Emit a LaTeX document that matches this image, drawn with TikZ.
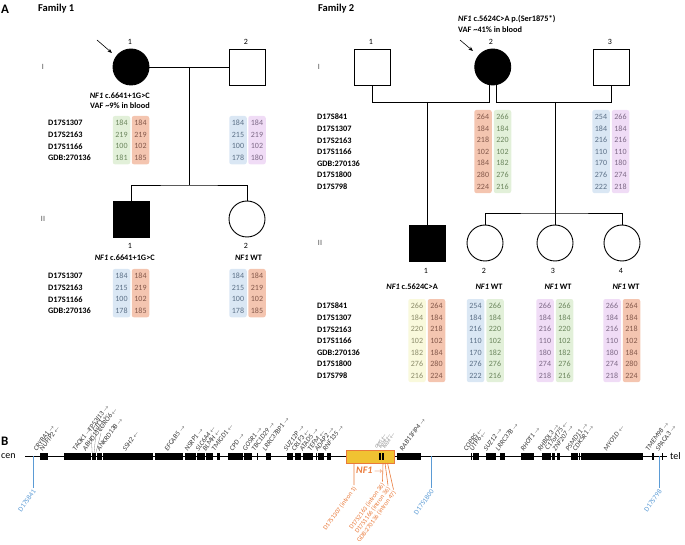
\documentclass[tikz,border=0pt]{standalone}
\usepackage{fontspec}
\setmainfont{Carlito}
\usetikzlibrary{arrows.meta}
\definecolor{grnbg}{HTML}{E2F0D9}\definecolor{grnfg}{HTML}{6B865D}
\definecolor{redbg}{HTML}{F4C5B0}\definecolor{redfg}{HTML}{84584A}
\definecolor{blubg}{HTML}{DAE7F4}\definecolor{blufg}{HTML}{5C7087}
\definecolor{purbg}{HTML}{F0DCF6}\definecolor{purfg}{HTML}{7D6986}
\definecolor{yelbg}{HTML}{F9F9DC}\definecolor{yelfg}{HTML}{8C8C6A}
\definecolor{mkblue}{HTML}{5B9BD5}
\definecolor{mkor}{HTML}{E97A3A}
\definecolor{nfgold}{HTML}{F0C232}
\newcommand{\fsz}[1]{\fontsize{#1}{#1}\selectfont}
\newcommand{\gR}{\,{\fsz{5.5}$\rightarrow$}}
\newcommand{\gL}{\,{\fsz{5.5}$\leftarrow$}}
\newcommand{\abox}[6]{%
  \node[abx, fill=#5bg, minimum height={(#4-1)*11.6+13.5}, anchor=north] (#1) at (#2,{#3-7.2}) {};
  \foreach \v [count=\k from 0] in {#6} {\node[anum, text=#5fg] (#1-\k) at (#2,{#3+\k*11.6}) {\v};}%
}
\begin{document}
\begin{tikzpicture}[x=1pt,y=-1pt,
  pl/.style={line width=0.9pt},
  sym/.style={draw, line width=0.9pt, inner sep=0, minimum size=36pt},
  sq/.style={sym, rectangle},
  ci/.style={sym, circle},
  aff/.style={fill=black},
  lbl/.style={font=\fsz{8}, inner sep=0, text height=5.5pt, text depth=0pt},
  bl/.style={font=\bfseries\fsz{8.3}, inner sep=0, text height=5.7pt, text depth=0pt},
  mk/.style={bl, anchor=west},
  anum/.style={font=\fsz{8}, inner sep=0, text height=5.2pt, text depth=0pt},
  abx/.style={rounded corners=2.2pt, minimum width=17.5pt, inner sep=0, draw=none},
  pro/.style={-{Stealth[length=4.5pt,width=3.6pt]}, line width=0.6pt},
  gene/.style={font=\itshape\fsz{7}, text=black!80, rotate=54, anchor=south west, inner sep=0.3pt},
  bmk/.style={draw=mkblue, line width=0.6pt},
  bml/.style={font=\fsz{7}, text=mkblue, rotate=54, anchor=east, inner sep=0.3pt},
  rmk/.style={draw=mkor, line width=0.6pt},
  rml/.style={font=\fsz{6.4}, text=mkor, rotate=54, anchor=east, inner sep=0.3pt}]
\useasboundingbox (0,0) rectangle (685,545);

% ---------- Panel A ----------
\node[anchor=west, font=\bfseries\fsz{13}, inner sep=0] (lA) at (1,9) {A};
\node[anchor=west, font=\bfseries\fsz{10.5}, inner sep=0] (t1) at (38,9) {Family 1};
\node[anchor=west, font=\bfseries\fsz{10.5}, inner sep=0] (t2) at (318,9) {Family 2};
\node[lbl, text=black!70] (g1a) at (43,67) {I};
\node[lbl, text=black!70] (g2a) at (43,219) {II};
\node[lbl, text=black!70] (g1b) at (319,67) {I};
\node[lbl, text=black!70] (g2b) at (320,243) {II};

% Family 1 pedigree
\node[ci, aff] (p11) at (131,67) {};
\node[sq] (p12) at (247,67) {};
\node[sq, aff] (p21) at (131,219) {};
\node[ci] (p22) at (247,219) {};
\node[lbl] (n11) at (130,42) {1};
\node[lbl] (n12) at (246,42) {2};
\node[lbl] (n21) at (130,246) {1};
\node[lbl] (n22) at (246,246) {2};
\draw[pl] (p11) -- (p12);
\coordinate (m1) at (189,67);
\coordinate (s1) at (189,185);
\draw[pl] (m1) -- (s1);
\draw[pl] (p21.north) |- (s1) -| (p22.north);
\coordinate (ar1) at (97,40); \coordinate (ar1e) at (112,53);
\draw[pro] (ar1) -- (ar1e);
\node[bl, anchor=east] (mut1) at (150,96) {\textit{NF1} c.6641+1G>C};
\node[bl, anchor=east] (vaf1) at (150,106) {VAF \textasciitilde9\% in blood};
\foreach \m [count=\i from 0] in {D17S1307,D17S2163,D17S1166,GDB:270136}
  \node[mk] (ma\i) at (48,{123+\i*11.6}) {\m};
\abox{a11g}{121.5}{123}{4}{grn}{184,219,100,181}
\abox{a11r}{140.5}{123}{4}{red}{184,219,102,185}
\abox{a12b}{238}{123}{4}{blu}{184,215,100,178}
\abox{a12p}{257}{123}{4}{pur}{184,219,102,180}
\node[bl, anchor=east] (mut2) at (155,258) {\textit{NF1} c.6641+1G>C};
\node[bl] (wt2) at (248.5,258) {\textit{NF1} WT};
\foreach \m [count=\i from 0] in {D17S1307,D17S2163,D17S1166,GDB:270136}
  \node[mk] (mb\i) at (48,{276+\i*11.6}) {\m};
\abox{a21b}{121.5}{276}{4}{blu}{184,215,100,178}
\abox{a21r}{140.5}{276}{4}{red}{184,219,102,185}
\abox{a22b}{238}{276}{4}{blu}{184,215,100,178}
\abox{a22r}{257}{276}{4}{red}{184,219,102,185}

% Family 2 pedigree
\node[sq] (q11) at (372.5,67) {};
\node[ci, aff] (q12) at (492.75,67) {};
\node[sq] (q13) at (611.5,67) {};
\node[lbl] (o11) at (371,42) {1};
\node[lbl] (o12) at (491,42) {2};
\node[lbl] (o13) at (610,42) {3};
\coordinate (h1) at (0,102);
\draw[pl] (q11.south) |- (q12.-100 |- h1) -- (q12.-100);
\draw[pl] (q12.-80) -- (q12.-80 |- h1) -| (q13.south);
\coordinate (ar2) at (460,40); \coordinate (ar2e) at (473,51);
\draw[pro] (ar2) -- (ar2e);
\node[bl, anchor=west] (mut3) at (458,19) {\textit{NF1} c.5624C>A p.(Ser1875*)};
\node[bl, anchor=west] (vaf3) at (458,30) {VAF \textasciitilde41\% in blood};
\node[sq, aff] (r21) at (427,243) {};
\node[ci] (r22) at (485,243) {};
\node[ci] (r23) at (555,243) {};
\node[ci] (r24) at (622,243) {};
\node[lbl] (o21) at (426,271) {1};
\node[lbl] (o22) at (484,271) {2};
\node[lbl] (o23) at (553,271) {3};
\node[lbl] (o24) at (621,271) {4};
\coordinate (d1t) at (427,102);
\draw[pl] (d1t) -- (r21.north);
\coordinate (d2t) at (555,102);
\coordinate (d2b) at (555,213);
\draw[pl] (d2t) -- (r23.north);
\draw[pl] (r22.north) |- (d2b) -| (r24.north);
\foreach \m [count=\i from 0] in {D17S841,D17S1307,D17S2163,D17S1166,GDB:270136,D17S1800,D17S798}
  \node[mk] (mc\i) at (317,{117+\i*11.6}) {\m};
\abox{b12r}{483}{117}{7}{red}{264,184,218,102,184,280,224}
\abox{b12g}{502.5}{117}{7}{grn}{266,184,220,102,182,276,216}
\abox{b13b}{601}{117}{7}{blu}{254,184,216,110,170,276,222}
\abox{b13p}{620.5}{117}{7}{pur}{266,184,216,110,180,274,218}
\node[bl, anchor=east] (mut4) at (438,287) {\textit{NF1} c.5624C>A};
\node[bl] (wt4) at (489,287) {\textit{NF1} WT};
\node[bl] (wt5) at (558,287) {\textit{NF1} WT};
\node[bl] (wt6) at (626,287) {\textit{NF1} WT};
\foreach \m [count=\i from 0] in {D17S841,D17S1307,D17S2163,D17S1166,GDB:270136,D17S1800,D17S798}
  \node[mk] (md\i) at (317,{306+\i*11.6}) {\m};
\abox{c1y}{417}{306}{7}{yel}{266,184,220,102,182,276,216}
\abox{c1r}{436.5}{306}{7}{red}{264,184,218,102,184,280,224}
\abox{c2b}{475.5}{306}{7}{blu}{254,184,216,110,170,276,222}
\abox{c2g}{495}{306}{7}{grn}{266,184,220,102,182,276,216}
\abox{c3p}{545}{306}{7}{pur}{266,184,216,110,180,274,218}
\abox{c3g}{564.5}{306}{7}{grn}{266,184,220,102,182,276,216}
\abox{c4p}{612}{306}{7}{pur}{266,184,216,110,180,274,218}
\abox{c4r}{631.5}{306}{7}{red}{264,184,218,102,184,280,224}

% ---------- Panel B ----------
\node[anchor=west, font=\bfseries\fsz{13}, inner sep=0] (lB) at (1,441) {B};
\node[anchor=west, font=\fsz{10}, inner sep=0] (cen) at (1,456) {cen};
\node[anchor=west, font=\fsz{10}, inner sep=0] (tel) at (670,456) {tel};
\coordinate (ls) at (25,456); \coordinate (le) at (667,456);
\draw[line width=0.7pt] (ls) -- (le);
\foreach \a/\b in {40/48,64/91,91.5/92.8,93.3/94.6,95.1/96.4,96.9/102,103/153,155/183,185/196,197/205,206/213,
  217/220,228/243,244/252,257/258,266/271,287/293,295/301,303/313,316/317,318/324,327/331,397/421,
  471/471.8,473/479,486/496,500/505,521/534,542/551,552/555,557/560,571/578,579/579.8,581/643,652/654,662/662.8}
  \fill (\a,453) rectangle (\b,459.5);
% cluster leaders
\coordinate (k1a) at (92.2,453); \coordinate (k1b) at (91,433);
\coordinate (k2a) at (94,453); \coordinate (k2b) at (96,433);
\coordinate (k3a) at (95.8,453); \coordinate (k3b) at (101,433);
\draw[black!50, line width=0.3pt] (k1a) -- (k1b) (k2a) -- (k2b) (k3a) -- (k3b);
\node[gene] (gTP) at (k1b) {TP53I13\gR};
\node[gene] (gGI) at (k2b) {GIT1\gL};
\node[gene] (gCO) at (k3b) {CORO6\gL};
\foreach \x/\t [count=\j] in {37/CRYBA1\gR, 43/NUFIP2\gL, 76/TAOK1\gR, 86/ABHD15\gL, 100/ANKRD13B\gR, 126/SSH2\gL,
  168/EFCAB5\gR, 188/NSRP1\gR, 199/SLC6A4\gL, 206/BLMH\gL, 215/TMIGD1\gL, 233/CPD\gR, 246/GOSR1\gR,
  255/TBC1D29\gR, 266/LRRC37BP1\gR, 287/SUZ12P\gR, 295/CRLF3\gL, 303/ATAD5\gR, 311/TEFM\gL, 318/ADAP2\gR,
  326/RNF135\gR, 403/RAB11FIP4\gR, 467/COPRS\gL, 473/UTP6\gL, 487/SUZ12\gR, 499/LRRC37B\gR, 524/RHOT1\gR,
  541/RHBDL3\gR, 549/C17orf75\gL, 556/ZNF207\gR, 569/PSMD11\gR, 576/CDK5R1\gR, 607/MYO1D\gL,
  649/TMEM98\gR, 659/SPACA3\gR}
  \node[gene] (gn\j) at (\x,452) {\t};
% NF1 gene
\node[draw=mkor, fill=nfgold, line width=0.8pt, minimum width=48pt, minimum height=13pt, inner sep=0] (nf1) at (370,456.5) {};
\fill (379.3,453) rectangle (380.7,459.5);
\fill (381.7,453) rectangle (384,459.5);
\foreach \x/\t [count=\j] in {377/OMG\gL, 381/EVI2B\gL, 385/EVI2A\gL}
  \node[gene, font=\itshape\fsz{4.3}, text=black!55] (gi\j) at (\x,449.5) {\t};
\node[font=\bfseries\itshape\fsz{10}, text=mkor, anchor=west, inner sep=0] (nf1l) at (356,470) {NF1\,{\fsz{8}$\rightarrow$}};
% blue markers
\coordinate (b1t) at (33,456); \coordinate (b1b) at (33,488);
\coordinate (b2t) at (431,456); \coordinate (b2b) at (431,488);
\coordinate (b3t) at (659,456); \coordinate (b3b) at (659,488);
\draw[bmk] (b1t) -- (b1b) (b2t) -- (b2b) (b3t) -- (b3b);
\node[bml] (bl1) at (34.5,490) {D17S841};
\node[bml] (bl2) at (432.5,490) {D17S1800};
\node[bml] (bl3) at (660.5,490) {D17S798};
% orange markers
\coordinate (r1t) at (354,463); \coordinate (r1b) at (354,485);
\coordinate (r2t) at (383,463); \coordinate (r2b) at (382.5,481.5);
\coordinate (r3t) at (385,463); \coordinate (r3b) at (388,485.5);
\coordinate (r4t) at (387.5,463); \coordinate (r4b) at (393.5,489.5);
\draw[rmk] (r1t) -- (r1b) (r2t) -- (r2b) (r3t) -- (r3b) (r4t) -- (r4b);
\node[rml] (rl1) at (355.5,487) {D17S1307 (intron 1)};
\node[rml] (rl2) at (383.5,483.5) {D17S2163 (intron 36)};
\node[rml] (rl3) at (389.2,487.6) {D17S1166 (intron 36)};
\node[rml] (rl4) at (394.9,491.5) {GDB:270136 (intron 47)};
\end{tikzpicture}
\end{document}
